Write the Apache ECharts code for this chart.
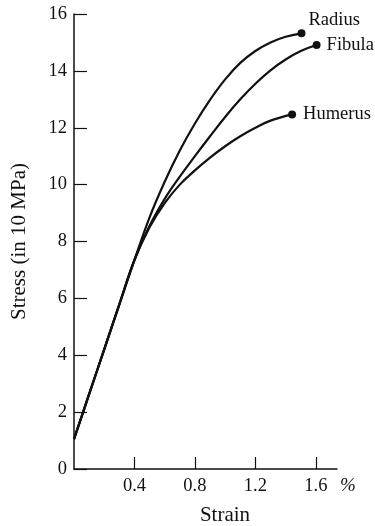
<!DOCTYPE html>
<html>
<head>
<meta charset="utf-8">
<script src="https://cdn.jsdelivr.net/npm/echarts@6/dist/echarts.min.js"></script>
<style>
  html, body { margin: 0; padding: 0; background: #fff; }
  #chart { width: 375px; height: 526px; }
</style>
</head>
<body>
<div id="chart"></div>
<script>
  // data (strain in %, stress in 10 MPa)
  const radiusStrain = [0, 0.1, 0.2, 0.3, 0.4, 0.5, 0.6, 0.7, 0.8, 0.9, 1.0, 1.1, 1.2, 1.3, 1.4, 1.505]
  const radiusStress = [1.05, 2.63, 4.21, 5.79, 7.35, 8.85, 10.1, 11.2, 12.15, 12.98, 13.7, 14.28, 14.7, 15.0, 15.2, 15.32]

  const fibulaStrain = [0, 0.1, 0.2, 0.3, 0.4, 0.5, 0.6, 0.7, 0.8, 0.9, 1.0, 1.1, 1.2, 1.3, 1.4, 1.5, 1.605]
  const fibulaStress = [1.05, 2.63, 4.21, 5.79, 7.35, 8.55, 9.5, 10.28, 11.0, 11.7, 12.38, 13.0, 13.55, 14.02, 14.4, 14.7, 14.91]

  const humerusStrain = [0, 0.1, 0.2, 0.3, 0.4, 0.5, 0.6, 0.7, 0.8, 0.9, 1.0, 1.1, 1.2, 1.3, 1.443]
  const humerusStress = [1.05, 2.63, 4.21, 5.79, 7.35, 8.5, 9.35, 10.0, 10.5, 10.95, 11.35, 11.7, 12.0, 12.25, 12.47]

  const xTicks = [0.4, 0.8, 1.2, 1.6]

  const ink = '#111'
  const font = '"Liberation Serif", "DejaVu Serif", serif'

  // pair x/y and put a dot + name on the last point
  function makeSeries(name, xs, ys, labelOffset) {
    const data = xs.map((x, i) => [x, ys[i]])
    const last = data.length - 1
    data[last] = {
      value: data[last],
      symbol: 'circle',
      symbolSize: 8,
      label: {
        show: true,
        position: 'right',
        distance: 5,
        offset: labelOffset,
        formatter: name,
        color: ink,
        fontFamily: font,
        fontSize: 18.5
      }
    }
    return {
      name: name,
      type: 'line',
      smooth: 0.4,
      symbol: 'none',
      lineStyle: { color: ink, width: 2.2 },
      itemStyle: { color: ink },
      data: data
    }
  }

  const mChart = echarts.init(document.getElementById('chart'))
  const option = {
    animation: false,
    backgroundColor: '#fff',
    grid: {
      left: 74,
      right: 38,
      top: 14,
      bottom: 57,
      containLabel: false,
      outerBoundsMode: 'none'
    },
    xAxis: {
      type: 'value',
      min: 0,
      max: 1.74,
      axisLine: { show: true, onZero: false, lineStyle: { color: ink, width: 1.5 } },
      axisTick: { show: true, inside: true, length: 12, customValues: xTicks, lineStyle: { color: ink, width: 1.2 } },
      axisLabel: {
        customValues: xTicks,
        formatter: v => v.toFixed(1),
        color: ink,
        fontFamily: font,
        fontSize: 18.5,
        margin: 8
      },
      splitLine: { show: false }
    },
    yAxis: {
      type: 'value',
      min: 0,
      max: 16,
      interval: 2,
      name: 'Stress (in 10 MPa)',
      nameLocation: 'middle',
      nameGap: 44,
      nameTextStyle: { color: ink, fontFamily: font, fontSize: 21 },
      axisLine: { show: true, lineStyle: { color: ink, width: 1.5 } },
      axisTick: { show: true, inside: true, length: 13, lineStyle: { color: ink, width: 1.2 } },
      axisLabel: { color: ink, fontFamily: font, fontSize: 18.5, margin: 7 },
      splitLine: { show: false }
    },
    graphic: [
      {
        type: 'text',
        style: { text: '%', x: 348, y: 486, textAlign: 'center', textVerticalAlign: 'middle', font: 'italic 19px ' + font, fill: ink }
      },
      {
        type: 'text',
        style: { text: 'Strain', x: 225, y: 515, textAlign: 'center', textVerticalAlign: 'middle', font: '21px ' + font, fill: ink }
      }
    ],
    series: [
      makeSeries('Radius', radiusStrain, radiusStress, [-2, -13]),
      makeSeries('Fibula', fibulaStrain, fibulaStress, [1, 0]),
      makeSeries('Humerus', humerusStrain, humerusStress, [2, 0])
    ]
  }
  mChart.setOption(option)
  window.addEventListener('resize', function() {
    mChart.resize()
  })
</script>
</body>
</html>
